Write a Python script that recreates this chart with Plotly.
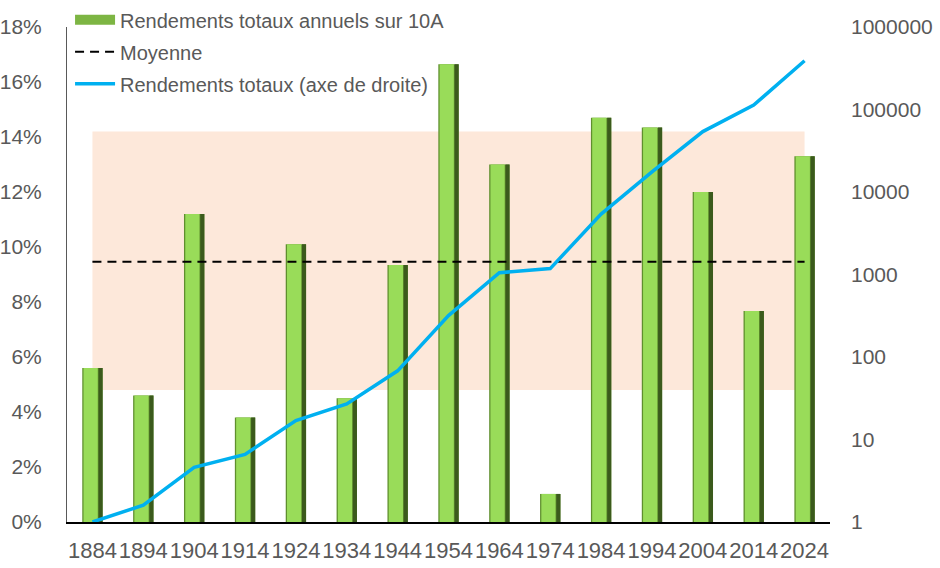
import plotly.graph_objects as go

# values
YEARS = ["1884", "1894", "1904", "1914", "1924", "1934", "1944", "1954",
         "1964", "1974", "1984", "1994", "2004", "2014", "2024"]
RENDEMENTS_10A = [0.056, 0.046, 0.112, 0.038, 0.101, 0.045, 0.0935, 0.1665,
                  0.130, 0.0102, 0.147, 0.1435, 0.120, 0.0767, 0.133]
RENDEMENTS_TOTAUX = [1, 1.6, 4.6, 6.6, 17, 27, 68, 318,
                     1050, 1180, 5400, 17500, 54000, 113000, 390000]
MOYENNE = 0.0946
BANDE_BAS, BANDE_HAUT = 0.048, 0.142
Y2_TICKS = [1, 10, 100, 1000, 10000, 100000, 1000000]

INK = "#595959"
FONT = "Liberation Sans, Arial, sans-serif"

fig = go.Figure()
# bevelled green bars: mid base, dark right edge, bright body
fig.add_trace(go.Bar(x=YEARS, y=RENDEMENTS_10A, width=0.40, marker_color="#5f8f2e",
                     marker_line_width=0, showlegend=False, hoverinfo="skip"))
fig.add_trace(go.Bar(x=YEARS, y=RENDEMENTS_10A, width=0.08, offset=0.12,
                     marker_color="#3b5a1c", marker_line_width=0, showlegend=False,
                     hoverinfo="skip"))
fig.add_trace(go.Bar(x=YEARS, y=RENDEMENTS_10A, width=0.28, offset=-0.175,
                     marker_color="#99dc59", marker_line_width=0, showlegend=False,
                     hovertemplate="%{x}: %{y:.1%}<extra></extra>"))
# legend-only entry so the symbol looks like a wide bar
fig.add_trace(go.Scatter(x=[YEARS[0]], y=[None], mode="lines",
                         line=dict(color="#7db543", width=10),
                         name="Rendements totaux annuels sur 10A", legendgroup="a"))
fig.add_trace(go.Scatter(x=YEARS, y=[MOYENNE] * len(YEARS), mode="lines",
                         line=dict(color="black", width=2, dash="9px,6px"),
                         name="Moyenne", legendgroup="b"))
fig.add_trace(go.Scatter(x=YEARS, y=RENDEMENTS_TOTAUX, mode="lines", yaxis="y2",
                         line=dict(color="#00b0f0", width=3.5),
                         name="Rendements totaux (axe de droite)", legendgroup="c"))

# shaded band between first and last category (shapes take category indices)
fig.add_shape(type="rect", xref="x", yref="y", x0=0, x1=len(YEARS) - 1,
              y0=BANDE_BAS, y1=BANDE_HAUT, fillcolor="#fde8da", line_width=0,
              layer="below")

fig.update_layout(
    width=940, height=568,
    margin=dict(l=67, r=110, t=27, b=46, autoexpand=False),
    paper_bgcolor="white", plot_bgcolor="white",
    font=dict(family=FONT, color=INK, size=20),
    barmode="overlay",
    legend=dict(x=0.004, y=1.054, xanchor="left", yanchor="top", bgcolor="rgba(0,0,0,0)",
                tracegroupgap=3, itemwidth=40, font=dict(size=20, color=INK)),
    xaxis=dict(type="category", showline=True, linecolor="black", linewidth=1.5,
               ticks="", tickangle=0, tickfont=dict(size=22), ticklabelstandoff=8,
               showgrid=False, range=[-0.5, len(YEARS) - 0.5], automargin=False),
    yaxis=dict(range=[0, 0.18], dtick=0.02, tickformat=".0%", showgrid=False,
               zeroline=False, showline=True, linecolor=INK, linewidth=1,
               ticks="", tickfont=dict(size=21), ticklabelstandoff=20, automargin=False),
    yaxis2=dict(type="log", range=[0, 6], overlaying="y", side="right",
                tickvals=Y2_TICKS, ticktext=[str(v) for v in Y2_TICKS],
                showgrid=False, zeroline=False, showline=False, ticks="",
                tickfont=dict(size=21), ticklabelstandoff=20, automargin=False),
)

# drop the default 8px body margin so the figure fills the window exactly
fig.write_html("out.html", config={"displayModeBar": False},
               post_script="document.body.style.margin='0';")
